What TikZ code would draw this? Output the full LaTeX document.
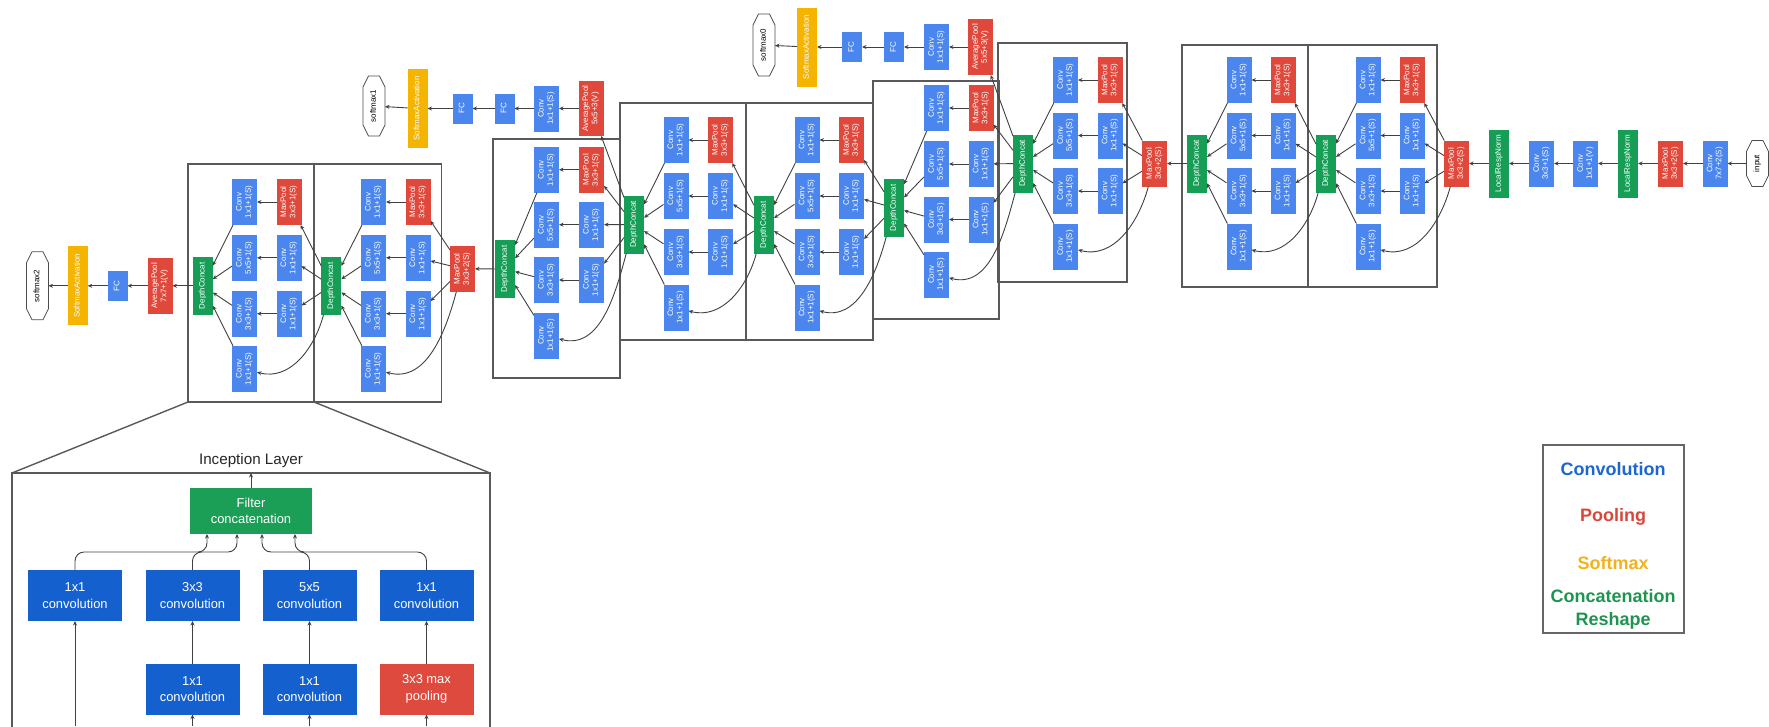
\documentclass[tikz,border=0pt]{standalone}
\usepackage{fontspec}
\setmainfont{Liberation Sans}
\usepackage{graphicx}
\usetikzlibrary{arrows.meta}
\definecolor{gblue}{HTML}{4A86EE}
\definecolor{gred}{HTML}{E0483B}
\definecolor{gyellow}{HTML}{F4B400}
\definecolor{ggreen}{HTML}{169E57}
\definecolor{dblue}{HTML}{1460CE}
\definecolor{dred}{HTML}{DE4A3D}
\definecolor{dgreen}{HTML}{1B9E55}
\definecolor{lblue}{HTML}{1B66D2}
\definecolor{lred}{HTML}{D9463B}
\definecolor{lyel}{HTML}{F1B21B}
\definecolor{lgreen}{HTML}{1E9451}
\newcommand\rt[1]{\rotatebox{90}{\begin{tabular}{@{}c@{}}#1\end{tabular}}}
\newcommand\setmod[9]{\def\gL{#1}\def\gR{#2}\def\gT{#3}\def\gB{#4}\def\gdx{#5}\def\gdy{#6}\def\gca{#7}\def\gcb{#8}\def\gin{#9}}
\newcommand\setrows[4]{\def\gra{#1}\def\grb{#2}\def\grc{#3}\def\grd{#4}}
\newcommand\octdraw[1]{%
  \draw[octline] ([xshift=5.5pt]#1.north west) -- ([xshift=-5.5pt]#1.north east) -- ([yshift=-11pt]#1.north east) -- ([yshift=11pt]#1.south east) -- ([xshift=-5.5pt]#1.south east) -- ([xshift=5.5pt]#1.south west) -- ([yshift=11pt]#1.south west) -- ([yshift=-11pt]#1.north west) -- cycle;}
\newcommand\incep[1]{%
  \draw[boxline] (\gL,-\gT) rectangle (\gR,-\gB);
  \node[pool] (#1p) at (\gcb,-\gra) {\rt{MaxPool\\3x3+1(S)}};
  \node[conv] (#1b2) at (\gcb,-\grb) {\rt{Conv\\1x1+1(S)}};
  \node[conv] (#1b3) at (\gcb,-\grc) {\rt{Conv\\1x1+1(S)}};
  \node[conv] (#1a1) at (\gca,-\gra) {\rt{Conv\\1x1+1(S)}};
  \node[conv] (#1a2) at (\gca,-\grb) {\rt{Conv\\5x5+1(S)}};
  \node[conv] (#1a3) at (\gca,-\grc) {\rt{Conv\\3x3+1(S)}};
  \node[conv] (#1a4) at (\gca,-\grd) {\rt{Conv\\1x1+1(S)}};
  \node[dc] (#1dc) at (\gdx,-\gdy) {\rt{DepthConcat}};
  \draw[arr] (\gin) -- (#1p);
  \draw[arr] (\gin) -- (#1b2);
  \draw[arr] (\gin) -- (#1b3);
  \draw[arr] (\gin) to[out=-105,in=-15] (#1a4);
  \draw[arr] (#1p) -- (#1a1);
  \draw[arr] (#1b2) -- (#1a2);
  \draw[arr] (#1b3) -- (#1a3);
  \draw[arr] (#1a1) -- (#1dc);
  \draw[arr] (#1a2) -- (#1dc);
  \draw[arr] (#1a3) -- (#1dc);
  \draw[arr] (#1a4) -- (#1dc);
}
\begin{document}
\begin{tikzpicture}[x=1pt,y=1pt,
  every node/.style={inner sep=0pt,outer sep=0pt},
  nd/.style={rectangle,text=white,font=\fontsize{8}{9.2}\selectfont,minimum width=25pt,minimum height=46pt},
  conv/.style={nd,fill=gblue},
  pool/.style={nd,fill=gred},
  dc/.style={nd,fill=ggreen,minimum width=20pt,minimum height=58pt},
  lrn/.style={nd,fill=ggreen,minimum width=20pt,minimum height=68pt},
  fcn/.style={nd,fill=gblue,minimum width=20pt,minimum height=30pt},
  sma/.style={nd,fill=gyellow,minimum width=20pt,minimum height=79pt},
  octo/.style={rectangle,text=black,font=\fontsize{8}{9.2}\selectfont,minimum width=22pt,minimum height=#1},
  octline/.style={draw=black!70,line width=0.8pt},
  arr/.style={draw=black!75,line width=0.9pt,-{Stealth[length=4.5pt,width=4pt]}},
  boxline/.style={draw=black!65,line width=1.4pt},
  dnode/.style={rectangle,text=white,align=center,font=\fontsize{12.9}{16.5}\selectfont,minimum width=94pt,minimum height=51pt},
  lg/.style={font=\bfseries\fontsize{18}{22.7}\selectfont,align=center}
]
\useasboundingbox (0,0) rectangle (1769,-726);
% stem
\node[octo=46pt] (input) at (1757.5,-163.5) {\rt{input}};
\octdraw{input}
\node[conv] (c7) at (1715,-163.5) {\rt{Conv\\7x7+2(S)}};
\node[pool] (mp1) at (1670.5,-163.5) {\rt{MaxPool\\3x3+2(S)}};
\node[lrn] (lrn1) at (1628,-163.5) {\rt{LocalRespNorm}};
\node[conv] (c1v) at (1585.5,-163.5) {\rt{Conv\\1x1+1(V)}};
\node[conv] (c33) at (1541.5,-163.5) {\rt{Conv\\3x3+1(S)}};
\node[lrn] (lrn2) at (1499,-163.5) {\rt{LocalRespNorm}};
\node[pool] (mp2) at (1456.5,-163.5) {\rt{MaxPool\\3x3+2(S)}};
\draw[arr] (input) -- (c7);
\draw[arr] (c7) -- (mp1);
\draw[arr] (mp1) -- (lrn1);
\draw[arr] (lrn1) -- (c1v);
\draw[arr] (c1v) -- (c33);
\draw[arr] (c33) -- (lrn2);
\draw[arr] (lrn2) -- (mp2);
% inception modules
\setrows{80}{135.5}{191}{246.5}
\setmod{1308}{1437}{45}{287}{1326}{163.5}{1368}{1412}{mp2}\incep{ia}
\setmod{1182}{1308}{45}{287}{1197}{163.5}{1239}{1283}{iadc}\incep{ib}
\node[pool] (mp3) at (1154.5,-163.5) {\rt{MaxPool\\3x3+2(S)}};
\draw[arr] (ibdc) -- (mp3);
\setmod{998}{1127}{43}{282}{1023}{163.5}{1065.5}{1110}{mp3}\incep{ic}
\setrows{108}{164}{219.5}{274.5}
\setmod{873}{999}{81}{319}{894}{207.8}{936.5}{981}{icdc}\incep{id}
\setrows{140}{196}{252}{307.5}
\setmod{746}{873}{103}{340}{764}{224.7}{807}{851.5}{iddc}\incep{ie}
\setmod{620}{746}{103}{340}{634}{224.5}{676}{720.5}{iedc}\incep{if}
\setrows{169.7}{224.7}{280}{335.5}
\setmod{493}{620}{139}{378}{505}{269}{546.5}{591.5}{ifdc}\incep{ig}
\node[pool] (mp4) at (462.5,-268.8) {\rt{MaxPool\\3x3+2(S)}};
\draw[arr] (igdc) -- (mp4);
\setrows{202}{257.8}{313.7}{368.8}
\setmod{314}{441.7}{164}{402}{331.3}{285.8}{373.5}{418}{mp4}\incep{ih}
\setmod{188}{314}{164}{402}{202.7}{285.8}{244.5}{289}{ihdc}\incep{ii}
% aux 0
\node[pool,minimum height=56pt] (ap0) at (980.5,-47) {\rt{AveragePool\\5x5+3(V)}};
\node[conv] (ac0) at (936.5,-47) {\rt{Conv\\1x1+1(S)}};
\node[fcn] (f0a) at (894,-47) {\rt{FC}};
\node[fcn] (f0b) at (852,-47) {\rt{FC}};
\node[sma] (s0) at (807,-47) {\rt{SoftmaxActivation}};
\node[octo=62pt] (o0) at (764,-45) {\rt{softmax0}};
\octdraw{o0}
\draw[arr] (icdc) -- (ap0);
\draw[arr] (ap0) -- (ac0);
\draw[arr] (ac0) -- (f0a);
\draw[arr] (f0a) -- (f0b);
\draw[arr] (f0b) -- (s0);
\draw[arr] (s0) -- (o0);
% aux 1
\node[pool,minimum height=55pt] (ap1) at (591,-108.5) {\rt{AveragePool\\5x5+3(V)}};
\node[conv] (ac1) at (546.5,-108.5) {\rt{Conv\\1x1+1(S)}};
\node[fcn] (f1a) at (504.5,-108.5) {\rt{FC}};
\node[fcn] (f1b) at (462.5,-108.5) {\rt{FC}};
\node[sma] (s1) at (417.5,-108.5) {\rt{SoftmaxActivation}};
\node[octo=60pt] (o1) at (374,-106) {\rt{softmax1}};
\octdraw{o1}
\draw[arr] (ifdc) -- (ap1);
\draw[arr] (ap1) -- (ac1);
\draw[arr] (ac1) -- (f1a);
\draw[arr] (f1a) -- (f1b);
\draw[arr] (f1b) -- (s1);
\draw[arr] (s1) -- (o1);
% final
\node[pool,minimum height=56pt] (ap2) at (160,-285.8) {\rt{AveragePool\\7x7+1(V)}};
\node[fcn] (f2) at (117.5,-285.8) {\rt{FC}};
\node[sma] (s2) at (77.7,-285.8) {\rt{SoftmaxActivation}};
\node[octo=68pt] (o2) at (37.5,-285.8) {\rt{softmax2}};
\octdraw{o2}
\draw[arr] (iidc) -- (ap2);
\draw[arr] (ap2) -- (f2);
\draw[arr] (f2) -- (s2);
\draw[arr] (s2) -- (o2);
% detail
\coordinate (zl) at (188,-402);
\coordinate (zr) at (314,-402);
\coordinate (dl) at (12,-473);
\coordinate (dr) at (490,-473);
\draw[boxline] (zl) -- (dl);
\draw[boxline] (zr) -- (dr);
\draw[boxline] (12,-730) -- (dl) -- (dr) -- (490,-730);
\node[font=\fontsize{15.2}{18}\selectfont,text=black!85] (title) at (251,-461) {Inception Layer};
\node[dnode,fill=dgreen,minimum width=122pt,minimum height=46pt] (fcat) at (251,-511) {Filter\\concatenation};
\coordinate (ftop) at (251,-473);
\draw[arr] (fcat) -- (ftop);
\node[dnode,fill=dblue] (t1) at (75,-595.5) {1x1\\convolution};
\node[dnode,fill=dblue] (t2) at (192.5,-595.5) {3x3\\convolution};
\node[dnode,fill=dblue] (t3) at (309.5,-595.5) {5x5\\convolution};
\node[dnode,fill=dblue] (t4) at (426.5,-595.5) {1x1\\convolution};
\node[dnode,fill=dblue] (b2) at (192.5,-689) {1x1\\convolution};
\node[dnode,fill=dblue] (b3) at (309.5,-689) {1x1\\convolution};
\node[dnode,fill=dred] (b4) at (426.5,-689) {3x3 max\\pooling};
\draw[arr,rounded corners=9pt] (t1.north) -- ++(0,18) -| ([xshift=-44pt]fcat.south);
\draw[arr,rounded corners=9pt] (t2.north) -- ++(0,18) -| ([xshift=-14pt]fcat.south);
\draw[arr,rounded corners=9pt] (t3.north) -- ++(0,18) -| ([xshift=11pt]fcat.south);
\draw[arr,rounded corners=9pt] (t4.north) -- ++(0,18) -| ([xshift=44pt]fcat.south);
\coordinate (e1) at (75,-726);
\coordinate (e2) at (192.5,-726);
\coordinate (e3) at (309.5,-726);
\coordinate (e4) at (426.5,-726);
\draw[arr] (e1) -- (t1);
\draw[arr] (e2) -- (b2);
\draw[arr] (e3) -- (b3);
\draw[arr] (e4) -- (b4);
\draw[arr] (b2) -- (t2);
\draw[arr] (b3) -- (t3);
\draw[arr] (b4) -- (t4);
% legend
\node[draw=black!60,line width=1.2pt,minimum width=141pt,minimum height=188pt] (leg) at (1613.5,-539) {};
\node[lg,text=lblue] (lc) at (1613,-469) {Convolution};
\node[lg,text=lred] (lp) at (1613,-517) {Pooling};
\node[lg,text=lyel] (ls) at (1613,-563) {Softmax};
\node[lg,text=lgreen] (lcr) at (1613,-609.5) {Concatenation\\Reshape};
\end{tikzpicture}
\end{document}
